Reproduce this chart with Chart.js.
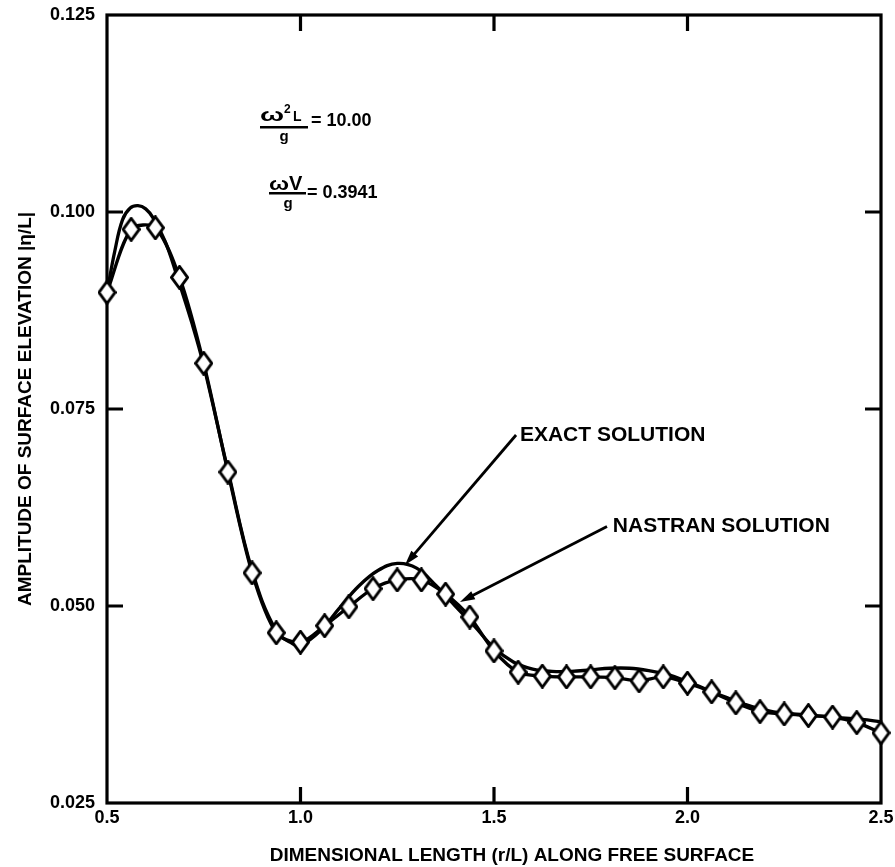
<!DOCTYPE html>
<html>
<head>
<meta charset="utf-8">
<script src="https://cdn.jsdelivr.net/npm/chart.js@4.4.0/dist/chart.umd.min.js"></script>
<style>
  html, body { margin: 0; padding: 0; background: #fff; }
  #wrap { width: 895px; height: 867px; }
</style>
</head>
<body>
<div id="wrap"><canvas id="surfaceChart"></canvas></div>
<script>
// axis ticks
const xTicks = [0.5, 1.0, 1.5, 2.0, 2.5];
const yTicks = [0.025, 0.050, 0.075, 0.100, 0.125];

// NASTRAN solution (diamonds)
const nastranX = [0.5, 0.5625, 0.625, 0.6875, 0.75, 0.8125, 0.875, 0.9375, 1.0, 1.0625, 1.125,
  1.1875, 1.25, 1.3125, 1.375, 1.4375, 1.5, 1.5625, 1.625, 1.6875, 1.75, 1.8125, 1.875, 1.9375,
  2.0, 2.0625, 2.125, 2.1875, 2.25, 2.3125, 2.375, 2.4375, 2.5];
const nastranY = [0.0898, 0.0978, 0.0980, 0.0917, 0.0808, 0.0670, 0.0542, 0.0466, 0.0454, 0.0475, 0.0499,
  0.0522, 0.0533, 0.0533, 0.0515, 0.0486, 0.0443, 0.0416, 0.0411, 0.0410, 0.0410, 0.0409, 0.0405, 0.0410,
  0.0402, 0.0391, 0.0377, 0.0366, 0.0363, 0.0361, 0.0359, 0.0352, 0.0339];

// exact solution (smooth curve)
const exactX = [0.5, 0.52, 0.54, 0.56, 0.58, 0.60, 0.62, 0.65, 0.68, 0.72, 0.75, 0.8125, 0.875, 0.9375,
  0.98, 1.0, 1.05, 1.1, 1.15, 1.2, 1.25, 1.3, 1.35, 1.4, 1.45, 1.5, 1.55, 1.6, 1.65, 1.7, 1.75, 1.8,
  1.85, 1.9, 1.95, 2.0, 2.05, 2.1, 2.15, 2.2, 2.25, 2.3, 2.35, 2.4, 2.45, 2.5];
const exactY = [0.0898, 0.0950, 0.0990, 0.1005, 0.1008, 0.1004, 0.0992, 0.0963, 0.0920, 0.0858, 0.0805,
  0.0672, 0.0545, 0.0468, 0.0452, 0.0450, 0.0468, 0.0497, 0.0525, 0.0545, 0.0554, 0.0548, 0.0526, 0.0500,
  0.0474, 0.0447, 0.0429, 0.0420, 0.0417, 0.0417, 0.0419, 0.0421, 0.0421, 0.0418, 0.0413, 0.0404, 0.0394,
  0.0384, 0.0375, 0.0368, 0.0364, 0.0362, 0.0360, 0.0358, 0.0356, 0.0353];

const FONT = '"Liberation Sans", Arial, Helvetica, sans-serif';

function makeDiamond() {
  const c = document.createElement('canvas');
  c.width = 19;
  c.height = 25;
  const g = c.getContext('2d');
  g.beginPath();
  g.moveTo(9.5, 1.5);
  g.lineTo(17.5, 12.5);
  g.lineTo(9.5, 23.5);
  g.lineTo(1.5, 12.5);
  g.closePath();
  g.fillStyle = '#fff';
  g.fill();
  g.lineWidth = 2.9;
  g.strokeStyle = '#000';
  g.stroke();
  return c;
}

function arrow(ctx, x1, y1, x2, y2) {
  const ang = Math.atan2(y2 - y1, x2 - x1);
  const len = 15, half = 4.5;
  ctx.beginPath();
  ctx.moveTo(x1, y1);
  ctx.lineTo(x2 - Math.cos(ang) * len * 0.8, y2 - Math.sin(ang) * len * 0.8);
  ctx.lineWidth = 2.8;
  ctx.stroke();
  ctx.beginPath();
  ctx.moveTo(x2, y2);
  ctx.lineTo(x2 - Math.cos(ang) * len - Math.sin(ang) * half, y2 - Math.sin(ang) * len + Math.cos(ang) * half);
  ctx.lineTo(x2 - Math.cos(ang) * len + Math.sin(ang) * half, y2 - Math.sin(ang) * len - Math.cos(ang) * half);
  ctx.closePath();
  ctx.fill();
}

// wide omega like the typewriter lettering
function omega(ctx, x, y, size, stretch) {
  ctx.save();
  ctx.font = 'bold ' + size + 'px ' + FONT;
  ctx.translate(x, y);
  ctx.scale(stretch, 1);
  ctx.fillText('\u03c9', 0, 0);
  const w = ctx.measureText('\u03c9').width * stretch;
  ctx.restore();
  return w;
}

const framePlugin = {
  id: 'frame',
  beforeDatasetsDraw(chart) {
    const { ctx, chartArea: a, scales: { x, y } } = chart;
    ctx.save();
    ctx.strokeStyle = '#000';
    ctx.lineWidth = 3.2;
    ctx.strokeRect(a.left, a.top, a.right - a.left, a.bottom - a.top);
    // inward tick marks on all four sides
    const tl = 16;
    ctx.beginPath();
    xTicks.slice(1, -1).forEach(v => {
      const px = x.getPixelForValue(v);
      ctx.moveTo(px, a.bottom);
      ctx.lineTo(px, a.bottom - tl);
      ctx.moveTo(px, a.top);
      ctx.lineTo(px, a.top + tl);
    });
    yTicks.slice(1, -1).forEach(v => {
      const py = y.getPixelForValue(v);
      ctx.moveTo(a.left, py);
      ctx.lineTo(a.left + tl, py);
      ctx.moveTo(a.right, py);
      ctx.lineTo(a.right - tl, py);
    });
    ctx.stroke();
    ctx.restore();
  },
  afterDraw(chart) {
    const { ctx, scales: { x, y } } = chart;
    ctx.save();
    ctx.fillStyle = '#000';
    ctx.strokeStyle = '#000';

    // arrows to the curves
    arrow(ctx, x.getPixelForValue(1.557), y.getPixelForValue(0.0717),
      x.getPixelForValue(1.270), y.getPixelForValue(0.0552));
    arrow(ctx, x.getPixelForValue(1.792), y.getPixelForValue(0.0601),
      x.getPixelForValue(1.412), y.getPixelForValue(0.0505));

    ctx.font = 'bold 21px ' + FONT;
    ctx.textBaseline = 'middle';
    ctx.textAlign = 'left';
    ctx.fillText('EXACT SOLUTION', x.getPixelForValue(1.567), y.getPixelForValue(0.0717));
    ctx.fillText('NASTRAN SOLUTION', x.getPixelForValue(1.807), y.getPixelForValue(0.0601));

    // x axis title, a little right of centre as in the original
    ctx.font = 'bold 19px ' + FONT;
    ctx.textAlign = 'center';
    ctx.fillText('DIMENSIONAL LENGTH (r/L) ALONG FREE SURFACE', 512, 856);

    // parameter block
    ctx.textAlign = 'left';
    ctx.textBaseline = 'alphabetic';
    omega(ctx, 260, 121, 19, 1.5);
    ctx.font = 'bold 12px ' + FONT;
    ctx.fillText('2', 284, 113);
    ctx.font = 'bold 14px ' + FONT;
    ctx.fillText('L', 293, 121);
    ctx.fillRect(260, 126, 48, 2.5);
    ctx.font = 'bold 15px ' + FONT;
    ctx.textAlign = 'center';
    ctx.fillText('g', 284, 141);
    ctx.textAlign = 'left';
    ctx.font = 'bold 18px ' + FONT;
    ctx.fillText('= 10.00', 311, 126);

    const ow = omega(ctx, 269, 190, 19, 1.25);
    ctx.font = 'bold 20px ' + FONT;
    ctx.fillText('V', 269 + ow, 190);
    ctx.fillRect(269, 192, 37, 2.5);
    ctx.font = 'bold 15px ' + FONT;
    ctx.textAlign = 'center';
    ctx.fillText('g', 288, 208);
    ctx.textAlign = 'left';
    ctx.font = 'bold 18px ' + FONT;
    ctx.fillText('= 0.3941', 307, 198);
    ctx.restore();
  }
};

const ctx = document.getElementById('surfaceChart').getContext('2d');

new Chart(ctx, {
  type: 'line',
  data: {
    datasets: [
      {
        label: 'NASTRAN SOLUTION',
        data: nastranX.map((v, i) => ({ x: v, y: nastranY[i] })),
        borderColor: '#000',
        borderWidth: 3.3,
        tension: 0.3,
        pointStyle: makeDiamond(),
        pointRadius: 9,
        clip: false
      },
      {
        label: 'EXACT SOLUTION',
        data: exactX.map((v, i) => ({ x: v, y: exactY[i] })),
        borderColor: '#000',
        borderWidth: 3.3,
        tension: 0.4,
        pointRadius: 0,
        clip: false
      }
    ]
  },
  options: {
    responsive: true,
    maintainAspectRatio: false,
    animation: false,
    layout: { padding: { top: 15, right: 14, left: 0, bottom: 0 } },
    plugins: {
      legend: { display: false },
      tooltip: { enabled: false }
    },
    scales: {
      x: {
        type: 'linear',
        min: 0.5,
        max: 2.5,
        afterBuildTicks: s => { s.ticks = xTicks.map(v => ({ value: v })); },
        afterFit: s => { s.height = 64; s.paddingLeft = 0; s.paddingRight = 0; },
        grid: { display: false, tickLength: 0 },
        border: { display: false },
        ticks: {
          padding: 4,
          color: '#000',
          font: { family: FONT, size: 18, weight: 'bold' },
          callback: v => v.toFixed(1)
        }
      },
      y: {
        type: 'linear',
        min: 0.025,
        max: 0.125,
        afterBuildTicks: s => { s.ticks = yTicks.map(v => ({ value: v })); },
        afterFit: s => { s.width = 107; s.paddingTop = 0; s.paddingBottom = 0; },
        grid: { display: false, tickLength: 0 },
        border: { display: false },
        ticks: {
          padding: 12,
          color: '#000',
          font: { family: FONT, size: 18, weight: 'bold' },
          callback: v => v.toFixed(3)
        },
        title: {
          display: true,
          text: 'AMPLITUDE OF SURFACE ELEVATION |\u03b7/L|',
          color: '#000',
          font: { family: FONT, size: 19, weight: 'bold' },
          padding: { top: 14, bottom: 0 }
        }
      }
    }
  },
  plugins: [framePlugin]
});
</script>
</body>
</html>
